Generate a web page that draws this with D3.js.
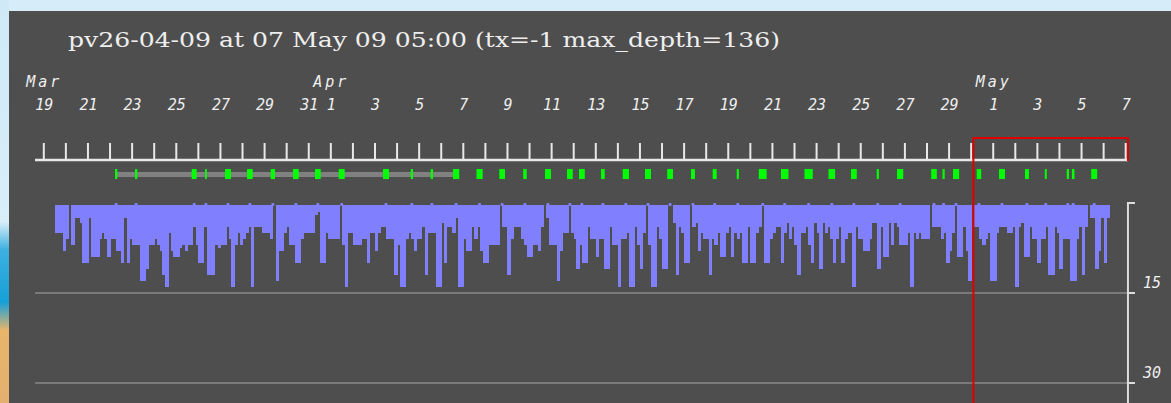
<!DOCTYPE html>
<html><head><meta charset="utf-8">
<script src="https://cdn.jsdelivr.net/npm/d3@7"></script>
<style>body{margin:0;overflow:hidden;background:#d6edf9}</style>
</head><body>
<script>
// ---------------- data ----------------
const titleText = "pv26-04-09 at 07 May 09 05:00 (tx=-1 max_depth=136)";
const dayLabelDates = ["2009-03-19","2009-03-21","2009-03-23","2009-03-25","2009-03-27","2009-03-29","2009-03-31",
  "2009-04-01","2009-04-03","2009-04-05","2009-04-07","2009-04-09","2009-04-11","2009-04-13","2009-04-15",
  "2009-04-17","2009-04-19","2009-04-21","2009-04-23","2009-04-25","2009-04-27","2009-04-29",
  "2009-05-01","2009-05-03","2009-05-05","2009-05-07"];
const monthNames = ["Mar","Apr","May"];
const monthLabelDates = ["2009-03-19","2009-04-01","2009-05-01"];
const depthTicks = [15, 30];
const barStart = "2009-03-19 12:30";
const barStepHours = 3;
const depthsA = [5,5,5,8,6,0,7,2.5,2.5,3.3, 10,10,2.5,9,9,9,6,5,6,9, 6,6,8,8,10,2.5,10,6,7,7,
  7,13,13,11,7,7,6,7,8,12, 14,5,8,9,9,7.5,7,8,7,7, 4,7,10,10,4,12,12,12,7,7.5, 7,7,4,6,14,7,5,7,6,5,
  4,14,4,4,4,5,5,5,6,0, 13,8,8,5,4,7,7,10,10,6, 5,5,5,5,2,1.5];
const depthsB = [10,10,5,6,6,6,6,0,7,14, 5,5,7,7,7,6,6,10,5,5, 8,5,4,4,6,6,6,12,7,14,
  14,6,5,6,8,6,6,4,12,5, 5,5,14,14,3.3,10,4,4,5,2.5, 14,14,6,8,8,4,6,4,8,10, 10,7,7,7,7,0,4,4,12,6,
  4,4,4,6,7,9,9,7,7,8, 4,0,2.5,7,7,7,13,8,5,5, 0,5,6,11,7,10,10];
const depthsC = [4,6,6,9,6,6,11,11,4,7, 7,14,6,6,5,14,14,4,7,11, 5,0,7,14,14,4,6,11,11,0,
  0,3.3,12,4,5,10,10,0,4,3.3, 8,5,6,6,12,6,7,5,9,9, 5,4,9,5,6,5,10,10,4,10, 10,5,4,0,10,10,6,5,4,4,
  10,5,3.3,6,4,7,12,5,5,4, 7,10,3.3,5,11,3.3,5,4,6,10, 6,4,10,6,5,5];
const depthsD = [14,4,6,6,8,8,6,3.3,3.3,11, 4,9,9,3.3,7,3.3,4,7,7,7, 5,14,5,6,5,6,6,6,0,4,
  4,4,6,5,10,8,5,0,9,9, 4,8,13,0,4,4,6,7,6,5, 13,13,5,4,4,4,5,5,4,14, 4,3.3,9,9,4,6,6,10,6,6,
  4,12,12,4,5,11,6,6,6,13, 13,6,4,12,4,0,2.5,2.5,11,8, 2.5,10,2.5];
// surface marks: start (days after 19 Mar) and duration (hours)
const markStartDays = [3.247,4.153,6.721,7.323,8.229,9.226,10.299,11.309,12.305,13.379,15.385,16.64,17.545,
  18.555,19.62,20.652,21.735,22.722,23.718,24.262,25.258,26.241,27.251,28.256,29.334,30.317,31.404,32.405,
  33.41,34.475,35.562,36.58,37.745,38.664,40.213,40.725,41.2,42.274,43.284,44.461,45.358,46.35,46.589,47.459];
const markHours = [2.5,2.5,5.4,2.0,6.5,6.2,4.7,6.2,6.2,6.5,6.5,2.5,2.5,6.8,6.7,6.2,3.8,6.5,6.3,6.3,4.1,6.8,6.5,6.3,
  4.3,4.3,2.4,8.6,8.1,9.0,7.2,6.3,2.4,6.8,6.1,2.4,6.7,4.9,6.5,4.3,2.2,2.5,2.7,6.5];
const trackStartDay = 3.247, trackEndDay = 18.6;
const windowStart = "2009-04-30 03:00", windowEnd = "2009-05-07 03:00";
const axisStart = "2009-03-18 15:00", axisEnd = "2009-05-07 03:00";

// ---------------- drawing ----------------
const W = 1171, H = 403;
const pD = d3.timeParse("%Y-%m-%d"), pT = d3.timeParse("%Y-%m-%d %H:%M");
const origin = pD("2009-03-19");
const dayAfter = d => new Date(+origin + d * 864e5);
const svg = d3.select("body").append("svg").attr("width", W).attr("height", H);
const defs = svg.append("defs");
const g1 = defs.append("linearGradient").attr("id","sky").attr("x1",0).attr("y1",0).attr("x2",0).attr("y2",1);
[["0%","#cfe9f7"],["55%","#d8eef9"],["62%","#3db0e0"],["75%","#16a0d8"],["82%","#e8b56a"],["100%","#e3b070"]]
  .forEach(s => g1.append("stop").attr("offset", s[0]).attr("stop-color", s[1]));
svg.append("rect").attr("x",0).attr("y",0).attr("width",W).attr("height",11).attr("fill","#d6edf9");
svg.append("rect").attr("x",0).attr("y",0).attr("width",9).attr("height",H).attr("fill","url(#sky)");
svg.append("rect").attr("x",9).attr("y",11).attr("width",W-9).attr("height",H-11).attr("fill","#4e4e4e");

const x = d3.scaleTime().domain([pD("2009-03-19"), pD("2009-05-07")]).range([43.3, 1125.2]);
const y = d3.scaleLinear().domain([0, 30]).range([203, 383]);
const barColor = "#8080ff";

svg.append("text").attr("x",68).attr("y",47).attr("fill","#eeeeee")
  .attr("font-family","'DejaVu Serif', serif").attr("font-size",20)
  .attr("textLength",712).attr("lengthAdjust","spacingAndGlyphs").text(titleText);

const mono = "'DejaVu Sans Mono', monospace";
svg.append("g").selectAll("text").data(monthNames).join("text")
  .attr("x",(d,i)=>x(pD(monthLabelDates[i]))+1).attr("y",87)
  .attr("text-anchor","middle").attr("font-family",mono).attr("font-style","italic")
  .attr("font-size",15).attr("letter-spacing",3).attr("fill","#f0f0f0").text(d=>d);
const fmtDay = d3.timeFormat("%-d");
svg.append("g").selectAll("text").data(dayLabelDates).join("text")
  .attr("x",d=>x(pD(d))+1).attr("y",110)
  .attr("text-anchor","middle").attr("font-family",mono).attr("font-style","italic")
  .attr("font-size",15).attr("fill","#f0f0f0").text(d=>fmtDay(pD(d)));

// day ticks axis
const ax = svg.append("g").attr("transform","translate(0,160)")
  .call(d3.axisTop(x).ticks(d3.timeDay.every(1)).tickSize(17).tickFormat(""));
ax.select(".domain").remove();
ax.selectAll("line").attr("stroke","#e8e8e8").attr("stroke-width",2);
svg.append("line").attr("x1",x(pT(axisStart))).attr("x2",x(pT(axisEnd))).attr("y1",160).attr("y2",160)
  .attr("stroke","#e8e8e8").attr("stroke-width",2.4);

// track + marks
svg.append("rect").attr("x",x(dayAfter(trackStartDay))).attr("y",172)
  .attr("width",x(dayAfter(trackEndDay))-x(dayAfter(trackStartDay))).attr("height",5).attr("fill","#808080");
svg.append("g").selectAll("rect").data(markStartDays).join("rect")
  .attr("x",d=>x(dayAfter(d))).attr("y",169)
  .attr("width",(d,i)=>x(dayAfter(d+markHours[i]/24))-x(dayAfter(d))).attr("height",10)
  .attr("fill","#00ff00");

// depth bars
const depths = depthsA.concat(depthsB, depthsC, depthsD);
const t0 = pT(barStart);
const tAt = i => new Date(+t0 + i * barStepHours * 3600e3);
svg.append("g").attr("shape-rendering","crispEdges").selectAll("rect").data(depths).join("rect")
  .attr("x",(d,i)=>x(tAt(i))).attr("y",y(0.4))
  .attr("width",(d,i)=>x(tAt(i+1))-x(tAt(i))+0.6)
  .attr("height",d=>d>0.4 ? y(d)-y(0.4) : 0)
  .attr("fill",barColor);
// surface nubs
svg.append("g").selectAll("rect").data(markStartDays).join("rect")
  .attr("x",(d,i)=>x(dayAfter(d+markHours[i]/48))-1.5).attr("y",y(0))
  .attr("width",3).attr("height",y(0.5)-y(0)).attr("rx",1).attr("fill",barColor);

// grid + right axis
const axX = x(pT(axisEnd));
svg.append("g").selectAll("line").data(depthTicks).join("line")
  .attr("x1",x(pT(axisStart))).attr("x2",axX).attr("y1",d=>y(d)).attr("y2",d=>y(d))
  .attr("stroke","#7a7a7a").attr("stroke-width",2);
svg.append("line").attr("x1",axX).attr("x2",axX).attr("y1",y(0)).attr("y2",H)
  .attr("stroke","#dcdcdc").attr("stroke-width",2);
svg.append("g").selectAll("line").data([0].concat(depthTicks)).join("line")
  .attr("x1",axX-1).attr("x2",axX+7).attr("y1",d=>y(d)).attr("y2",d=>y(d))
  .attr("stroke","#dcdcdc").attr("stroke-width",2);
svg.append("g").selectAll("text").data(depthTicks).join("text")
  .attr("x",axX+15).attr("y",d=>y(d)-5.5).attr("font-family",mono).attr("font-style","italic")
  .attr("font-size",15).attr("fill","#f0f0f0").text(d=>d);

// red window
const wx0 = x(pT(windowStart)), wx1 = x(pT(windowEnd));
const red = "#e00000";
svg.append("line").attr("x1",wx0).attr("x2",wx0).attr("y1",137).attr("y2",H).attr("stroke",red).attr("stroke-width",2);
svg.append("line").attr("x1",wx0).attr("x2",wx1).attr("y1",138).attr("y2",138).attr("stroke",red).attr("stroke-width",2);
svg.append("line").attr("x1",wx1).attr("x2",wx1).attr("y1",137).attr("y2",161).attr("stroke",red).attr("stroke-width",2);
</script>
</body></html>
